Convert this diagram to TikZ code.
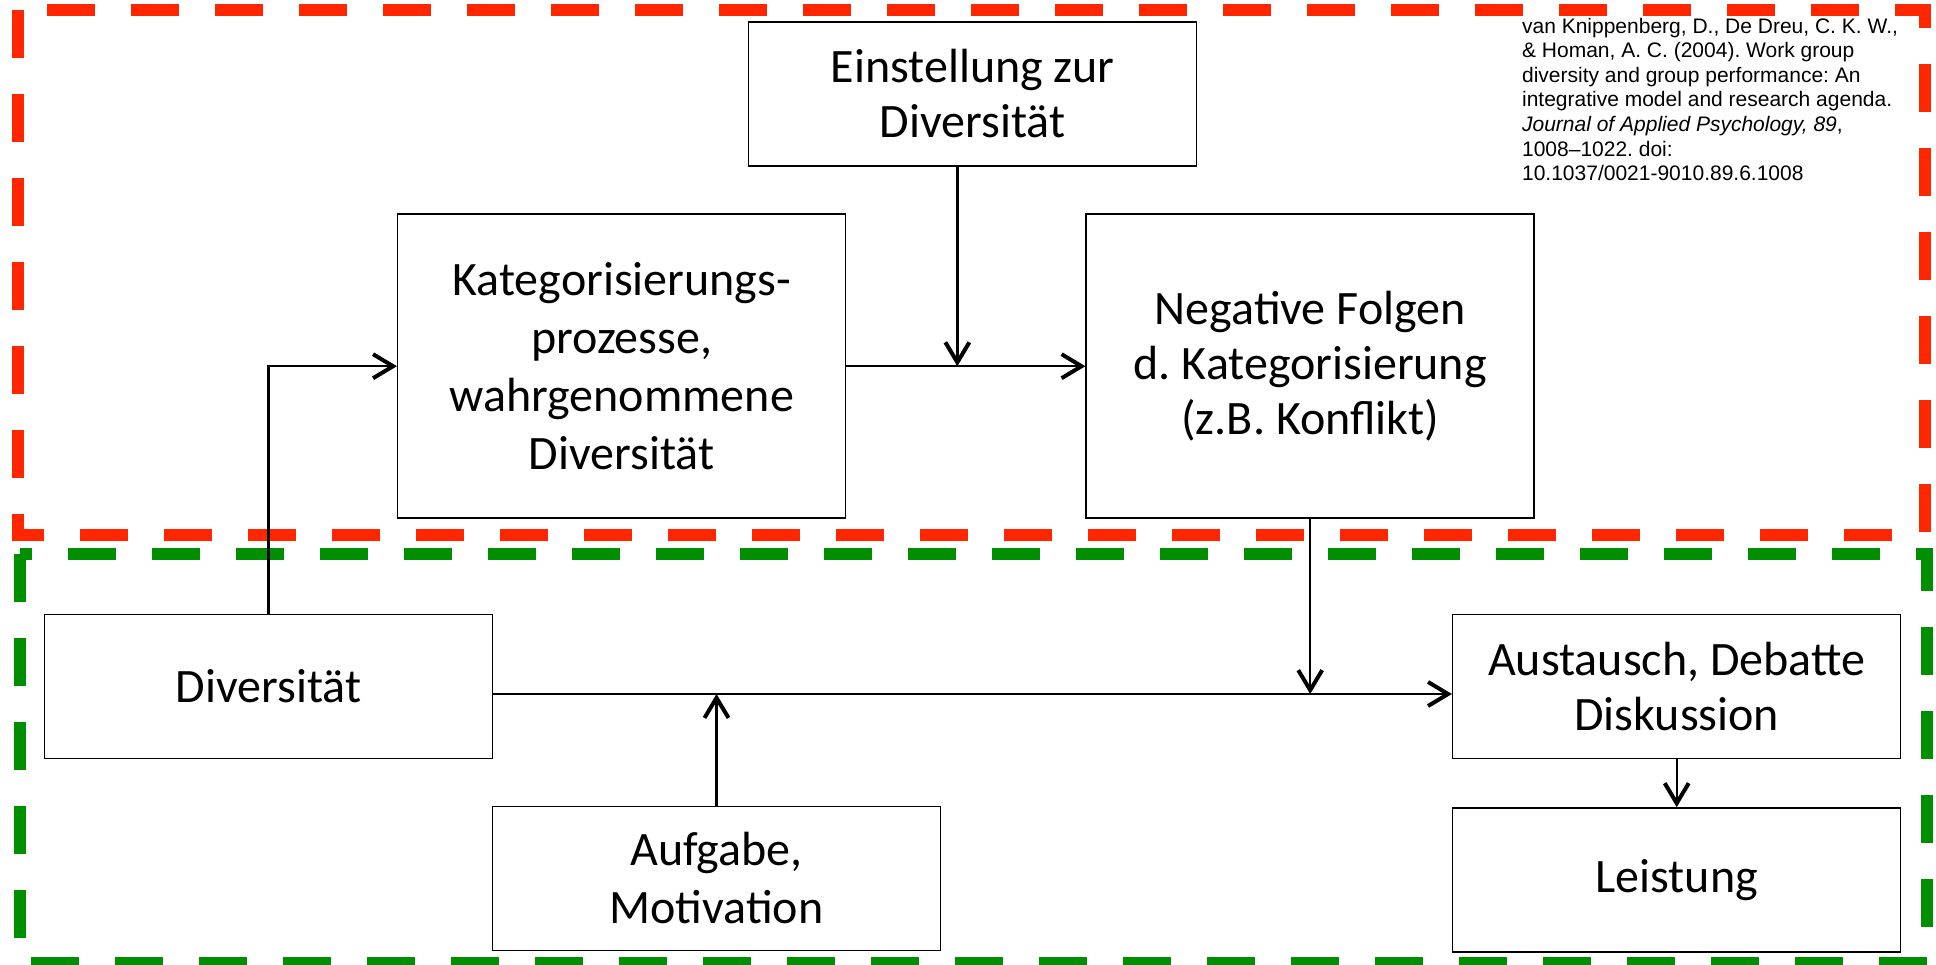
\documentclass[tikz,border=0pt]{standalone}
\usepackage{fontspec}
\setmainfont{Carlito}
\newfontfamily\citefont{Liberation Sans}
\usepackage{tikz}
\usetikzlibrary{arrows.meta, positioning}
\definecolor{framered}{RGB}{255,38,0}
\definecolor{framegreen}{RGB}{0,143,0}
\frenchspacing
\tikzset{
	factor/.style={
		rectangle, 
		minimum width=224pt, 
		minimum height=72pt, 
		text centered, 
		align=center,
		draw=black, 
		line width=0.75pt,
		font=\fontsize{24}{27.5}\selectfont
	},
	process/.style={
		factor,
		minimum height=152pt,
		font=\fontsize{24}{29}\selectfont
	},
	redframe/.style={
		draw=framered, 
		line width=6pt, 
		dash pattern=on 24pt off 18pt
	},
	greenframe/.style={
		draw=framegreen, 
		line width=6pt, 
		dash pattern=on 24pt off 18pt
	},
	arrow/.style={line width=1.2pt,-{Straight Barb[length=10pt,width=12pt,line width=2pt]}}
}

\begin{document}
\begin{tikzpicture}[x=0.5pt, y=-0.5pt]
				\useasboundingbox (0,0) rectangle (1936,964);
				\draw [redframe] (18,9.7) rectangle (1925,535.3);
				\draw [greenframe] (20,554) rectangle (1927,963);
				
				\node (einst) [factor] at (972.7,94) {Einstellung zur\\Diversität};
				\node (kat) [process] at (621.7,366.2) {Kategorisierungs-\\prozesse,\\wahrgenommene\\Diversität};
				\node (neg) [process, right=119.5pt of kat, font=\fontsize{24}{27.5}\selectfont] {Negative Folgen\\d. Kategorisierung\\(z.B. Konflikt)};
				
				\node (div) [factor] at (268.5,686.5) {Diversität};
				\node (aus) [factor] at (1676.7,686.3) {Austausch, Debatte\\Diskussion};
				\node (leist) [factor, below=24pt of aus] {Leistung};
				\node (auf) [factor, font=\fontsize{24}{29}\selectfont] at (716.5,878.3) {Aufgabe,\\Motivation};
				
				\node (ref) [anchor=north west, inner sep=0pt, align=left, font=\citefont\fontsize{10.5}{12.3}\selectfont] at (1521.7,17.5) {van Knippenberg, D., De Dreu, C. K. W.,\\\& Homan, A. C. (2004). Work group\\diversity and group performance: An\\integrative model and research agenda.\\\textit{Journal of Applied Psychology, 89},\\1008–1022. doi:\\10.1037/0021-9010.89.6.1008};
				
				\path (kat.east) -- (neg.west) coordinate[pos=0.464] (m1);
				\coordinate (lane) at ([yshift=-3.75pt]div.east);
				
				\draw [arrow] (div.north) |- (kat.west);
				\draw [arrow] (kat.east) -- (neg.west);
				\draw [arrow] (einst.south -| m1) -- (m1);
				\draw [arrow] (lane) -- (aus.west |- lane);
				\draw [arrow] (neg.south) -- (neg.south |- lane);
				\draw [arrow] (auf.north) -- (auf.north |- lane);
				\draw [arrow] (aus.south) -- (leist.north);
\end{tikzpicture}
\end{document}
